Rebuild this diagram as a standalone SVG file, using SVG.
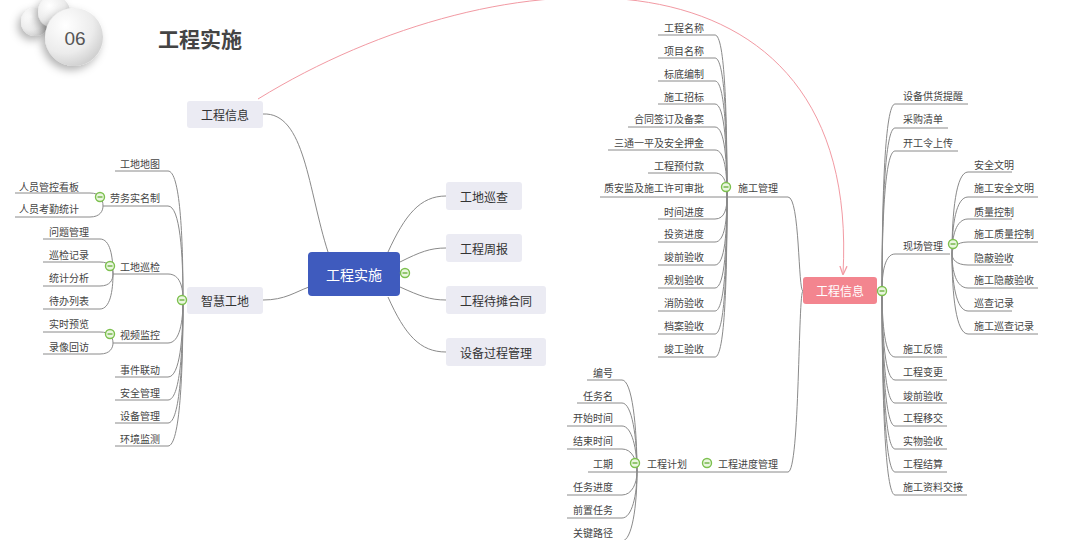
<svg xmlns="http://www.w3.org/2000/svg" width="1073" height="540" viewBox="0 0 1073 540">
<style>
text{font-family:"Noto Sans CJK SC","Liberation Sans",sans-serif;dominant-baseline:central;fill:#444}
.s{font-size:10px}
.b{font-size:12px;text-anchor:middle;fill:#333}
.e{text-anchor:end}
.c path{fill:none;stroke:#8a8a8a;stroke-width:1}
.box{fill:#EBEBF3}
</style>
<defs>
<radialGradient id="g1" cx="0.35" cy="0.3" r="0.8">
<stop offset="0" stop-color="#ffffff"/><stop offset="0.6" stop-color="#ececec"/><stop offset="1" stop-color="#c9c9c9"/>
</radialGradient>
<filter id="sh" x="-50%" y="-50%" width="200%" height="200%">
<feDropShadow dx="-3" dy="4" stdDeviation="4" flood-color="#000" flood-opacity="0.3"/>
</filter>
<marker id="ar" viewBox="0 0 10 10" refX="9" refY="5" markerWidth="9" markerHeight="9" orient="auto" markerUnits="userSpaceOnUse">
<path d="M0 1 L10 5 L0 9" fill="none" stroke="#F29AA3" stroke-width="1.4"/>
</marker>
<g id="m"><circle r="4.5" fill="#eaf6e0" stroke="#7cc04e" stroke-width="1.4"/><line x1="-2.5" y1="0" x2="2.5" y2="0" stroke="#6fb443" stroke-width="1.4"/></g>
</defs>
<rect width="1073" height="540" fill="#fff"/>

<g id="title">
<circle cx="35" cy="22" r="14" fill="url(#g1)" filter="url(#sh)"/>
<circle cx="54" cy="12" r="16" fill="url(#g1)" filter="url(#sh)"/>
<circle cx="74" cy="37" r="29" fill="url(#g1)" filter="url(#sh)"/>
<text x="75" y="38" style="font-family:'Liberation Sans',sans-serif;font-size:19px;fill:#555;text-anchor:middle">06</text>
<text x="158" y="38" style="font-size:21px;font-weight:bold;fill:#444">工程实施</text>
</g>

<g id="connectors" class="c">
<path d="M263 114 C305 112 308 190 328 252"/>
<path d="M263 300 C285 300 295 292 309 287"/>
<path d="M388 252 C405 215 420 196 446 196"/>
<path d="M400 262 C420 252 430 248 446 248"/>
<path d="M400 287 C420 296 430 300 446 300"/>
<path d="M388 297 C405 335 420 352 446 352"/>
<path d="M115 171 H168 C180 171 183 235 183 300"/>
<path d="M103 206 H168 C180 206 183 253 183 300"/>
<path d="M113 274 H168 C180 274 183 287 183 300"/>
<path d="M113 343 H168 C180 343 183 321 183 300"/>
<path d="M115 377 H168 C180 377 183 338 183 300"/>
<path d="M115 400 H168 C180 400 183 350 183 300"/>
<path d="M115 423 H168 C180 423 183 361 183 300"/>
<path d="M115 446 H168 C180 446 183 373 183 300"/>
<path d="M15 193 H90 C100 193 103 199 103 206"/>
<path d="M15 217 H90 C100 217 103 211 103 206"/>
<path d="M43 239 H100 C110 239 113 256 113 274"/>
<path d="M43 262 H100 C110 262 113 268 113 274"/>
<path d="M43 286 H100 C110 286 113 280 113 274"/>
<path d="M43 309 H100 C110 309 113 291 113 274"/>
<path d="M43 332 H100 C110 332 113 337 113 343"/>
<path d="M43 354 H100 C110 354 113 348 113 343"/>
<path d="M600 197 H788 C800 197 798 291 803 291"/>
<path d="M588 472 H788 C800 472 798 291 803 291"/>
<path d="M658 35 H715 C725 35 727 116 727 197"/>
<path d="M658 58 H715 C725 58 727 127 727 197"/>
<path d="M658 81 H715 C725 81 727 139 727 197"/>
<path d="M658 104 H715 C725 104 727 150 727 197"/>
<path d="M628 127 H715 C725 127 727 162 727 197"/>
<path d="M608 150 H715 C725 150 727 173 727 197"/>
<path d="M648 173 H715 C725 173 727 185 727 197"/>
<path d="M658 219 H715 C725 219 727 208 727 197"/>
<path d="M658 242 H715 C725 242 727 219 727 197"/>
<path d="M658 265 H715 C725 265 727 231 727 197"/>
<path d="M658 288 H715 C725 288 727 242 727 197"/>
<path d="M658 311 H715 C725 311 727 254 727 197"/>
<path d="M658 334 H715 C725 334 727 265 727 197"/>
<path d="M658 357 H715 C725 357 727 277 727 197"/>
<path d="M587 380 H622 C632 380 637 426 637 472"/>
<path d="M577 403 H622 C632 403 637 437 637 472"/>
<path d="M567 426 H622 C632 426 637 449 637 472"/>
<path d="M567 449 H622 C632 449 637 460 637 472"/>
<path d="M567 495 H622 C632 495 637 483 637 472"/>
<path d="M567 518 H622 C632 518 637 495 637 472"/>
<path d="M567 541 H622 C632 541 637 506 637 472"/>
<path d="M968 104 H895 C885 104 882 197 882 291"/>
<path d="M948 128 H895 C885 128 882 209 882 291"/>
<path d="M958 151 H895 C885 151 882 221 882 291"/>
<path d="M950 254 H895 C885 254 882 272 882 291"/>
<path d="M947 357 H895 C885 357 882 324 882 291"/>
<path d="M947 380 H895 C885 380 882 335 882 291"/>
<path d="M947 403 H895 C885 403 882 347 882 291"/>
<path d="M947 426 H895 C885 426 882 358 882 291"/>
<path d="M947 449 H895 C885 449 882 370 882 291"/>
<path d="M947 472 H895 C885 472 882 381 882 291"/>
<path d="M967 495 H895 C885 495 882 393 882 291"/>
<path d="M1012 172 H968 C956 172 952 213 952 254"/>
<path d="M1038 197 H968 C956 197 952 225 952 254"/>
<path d="M1012 219 H968 C956 219 952 236 952 254"/>
<path d="M1038 242 H968 C956 242 952 248 952 254"/>
<path d="M1012 265 H968 C956 265 952 259 952 254"/>
<path d="M1038 288 H968 C956 288 952 271 952 254"/>
<path d="M1012 311 H968 C956 311 952 282 952 254"/>
<path d="M1038 334 H968 C956 334 952 294 952 254"/>
<path d="M258 99 C500 -50 862 -68 843 274" style="stroke:#F29AA3" marker-end="url(#ar)"/>
</g>

<g id="n-center">
<rect x="308" y="252" width="92" height="44" rx="4" fill="#3F5BBE"/>
<text x="354" y="274" style="font-size:14px;fill:#fff;text-anchor:middle">工程实施</text>
</g>
<g id="n-info-l"><rect class="box" x="187" y="101" width="76" height="27" rx="3"/><text class="b" x="225" y="114.5">工程信息</text></g>
<g id="n-smart"><rect class="box" x="187" y="287" width="76" height="27" rx="3"/><text class="b" x="225" y="300.5">智慧工地</text></g>
<g id="n-xuncha"><rect class="box" x="446" y="182" width="76" height="28" rx="3"/><text class="b" x="484" y="196">工地巡查</text></g>
<g id="n-zhoubao"><rect class="box" x="446" y="234" width="76" height="28" rx="3"/><text class="b" x="484" y="248">工程周报</text></g>
<g id="n-daitan"><rect class="box" x="446" y="286" width="100" height="28" rx="3"/><text class="b" x="496" y="300">工程待摊合同</text></g>
<g id="n-shebei"><rect class="box" x="446" y="338" width="100" height="28" rx="3"/><text class="b" x="496" y="352">设备过程管理</text></g>
<g id="n-info-r">
<rect x="803" y="277" width="74" height="27" rx="3" fill="#F3858F"/>
<text x="840" y="290.5" style="font-size:12px;fill:#fff;text-anchor:middle">工程信息</text>
</g>

<g id="n-smart-children">
<g id="t1"><text class="s e" x="160" y="163">工地地图</text></g>
<g id="t2"><text class="s e" x="160" y="197">劳务实名制</text></g>
<g id="t3"><text class="s e" x="160" y="266">工地巡检</text></g>
<g id="t4"><text class="s e" x="160" y="334">视频监控</text></g>
<g id="t5"><text class="s e" x="160" y="369">事件联动</text></g>
<g id="t6"><text class="s e" x="160" y="392">安全管理</text></g>
<g id="t7"><text class="s e" x="160" y="415">设备管理</text></g>
<g id="t8"><text class="s e" x="160" y="438">环境监测</text></g>
<g id="t9"><text class="s e" x="79" y="186">人员管控看板</text></g>
<g id="t10"><text class="s e" x="79" y="208">人员考勤统计</text></g>
<g id="t11"><text class="s e" x="89" y="231">问题管理</text></g>
<g id="t12"><text class="s e" x="89" y="254">巡检记录</text></g>
<g id="t13"><text class="s e" x="89" y="277">统计分析</text></g>
<g id="t14"><text class="s e" x="89" y="300">待办列表</text></g>
<g id="t15"><text class="s e" x="89" y="323">实时预览</text></g>
<g id="t16"><text class="s e" x="89" y="346">录像回访</text></g>
</g>

<g id="n-sg">
<g id="sg0"><text class="s" x="738" y="187">施工管理</text></g>
<g id="sg1"><text class="s e" x="704" y="27">工程名称</text></g>
<g id="sg2"><text class="s e" x="704" y="50">项目名称</text></g>
<g id="sg3"><text class="s e" x="704" y="73">标底编制</text></g>
<g id="sg4"><text class="s e" x="704" y="96">施工招标</text></g>
<g id="sg5"><text class="s e" x="704" y="118">合同签订及备案</text></g>
<g id="sg6"><text class="s e" x="704" y="142">三通一平及安全押金</text></g>
<g id="sg7"><text class="s e" x="704" y="165">工程预付款</text></g>
<g id="sg8"><text class="s e" x="704" y="187">质安监及施工许可审批</text></g>
<g id="sg9"><text class="s e" x="704" y="211">时间进度</text></g>
<g id="sg10"><text class="s e" x="704" y="233">投资进度</text></g>
<g id="sg11"><text class="s e" x="704" y="256">竣前验收</text></g>
<g id="sg12"><text class="s e" x="704" y="279">规划验收</text></g>
<g id="sg13"><text class="s e" x="704" y="302">消防验收</text></g>
<g id="sg14"><text class="s e" x="704" y="325">档案验收</text></g>
<g id="sg15"><text class="s e" x="704" y="348">竣工验收</text></g>
</g>

<g id="n-jd">
<g id="jd0"><text class="s" x="718" y="463">工程进度管理</text></g>
<g id="jd1"><text class="s" x="647" y="463">工程计划</text></g>
<g id="jd2"><text class="s e" x="613" y="372">编号</text></g>
<g id="jd3"><text class="s e" x="613" y="395">任务名</text></g>
<g id="jd4"><text class="s e" x="613" y="417">开始时间</text></g>
<g id="jd5"><text class="s e" x="613" y="440">结束时间</text></g>
<g id="jd6"><text class="s e" x="613" y="463">工期</text></g>
<g id="jd7"><text class="s e" x="613" y="486">任务进度</text></g>
<g id="jd8"><text class="s e" x="613" y="509">前置任务</text></g>
<g id="jd9"><text class="s e" x="613" y="532">关键路径</text></g>
</g>

<g id="n-r">
<g id="r1"><text class="s" x="903" y="95">设备供货提醒</text></g>
<g id="r2"><text class="s" x="903" y="118">采购清单</text></g>
<g id="r3"><text class="s" x="903" y="142">开工令上传</text></g>
<g id="r4"><text class="s" x="903" y="245">现场管理</text></g>
<g id="r5"><text class="s" x="903" y="348">施工反馈</text></g>
<g id="r6"><text class="s" x="903" y="371">工程变更</text></g>
<g id="r7"><text class="s" x="903" y="395">竣前验收</text></g>
<g id="r8"><text class="s" x="903" y="417">工程移交</text></g>
<g id="r9"><text class="s" x="903" y="440">实物验收</text></g>
<g id="r10"><text class="s" x="903" y="463">工程结算</text></g>
<g id="r11"><text class="s" x="903" y="486">施工资料交接</text></g>
<g id="x1"><text class="s" x="974" y="164">安全文明</text></g>
<g id="x2"><text class="s" x="974" y="187">施工安全文明</text></g>
<g id="x3"><text class="s" x="974" y="211">质量控制</text></g>
<g id="x4"><text class="s" x="974" y="233">施工质量控制</text></g>
<g id="x5"><text class="s" x="974" y="257">隐蔽验收</text></g>
<g id="x6"><text class="s" x="974" y="279">施工隐蔽验收</text></g>
<g id="x7"><text class="s" x="974" y="302">巡查记录</text></g>
<g id="x8"><text class="s" x="974" y="325">施工巡查记录</text></g>
</g>

<g id="collapse">
<use href="#m" x="405" y="273"/>
<use href="#m" x="182" y="300"/>
<use href="#m" x="100" y="197"/>
<use href="#m" x="110" y="266"/>
<use href="#m" x="110" y="334"/>
<use href="#m" x="726" y="187"/>
<use href="#m" x="635" y="463"/>
<use href="#m" x="707" y="463"/>
<use href="#m" x="882" y="291"/>
<use href="#m" x="953" y="244"/>
</g>
</svg>
